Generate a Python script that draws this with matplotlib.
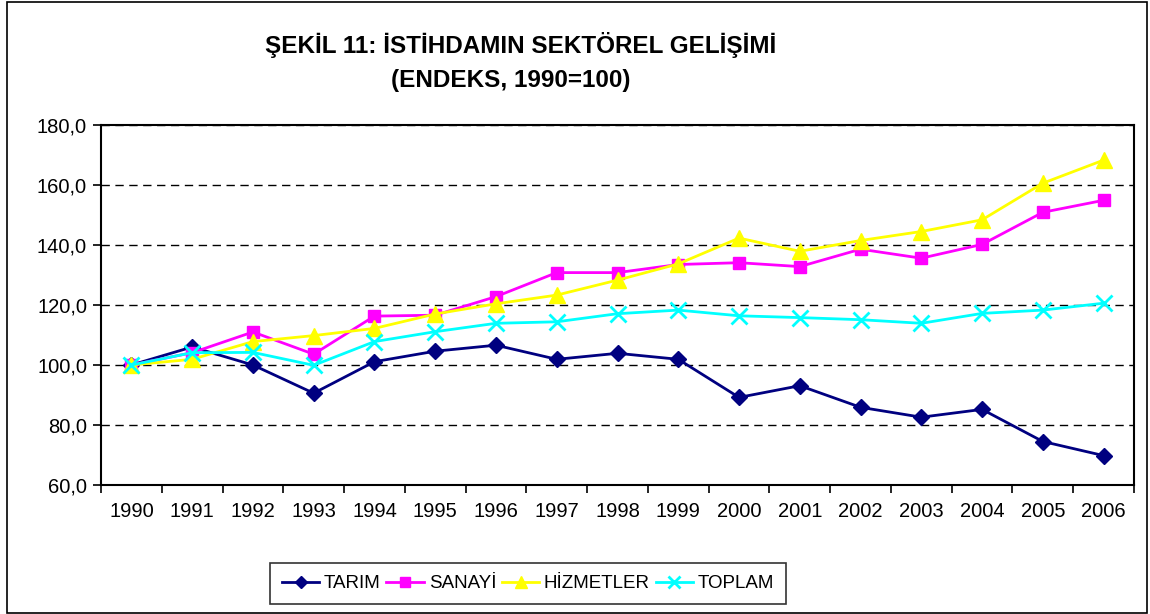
import matplotlib
matplotlib.use("Agg")
import matplotlib.pyplot as plt
from matplotlib.patches import Rectangle
from matplotlib.ticker import FixedLocator, FuncFormatter

years = [str(y) for y in range(1990, 2007)]
tarim = [100.0, 106.0, 100.0, 90.6, 101.1, 104.6, 106.6, 101.9, 103.9, 101.9,
         89.2, 93.1, 85.9, 82.6, 85.2, 74.5, 69.8]
sanayi = [100.0, 104.1, 111.0, 103.6, 116.3, 116.6, 122.8, 130.8, 130.8, 133.5,
          134.1, 132.8, 138.6, 135.6, 140.2, 150.9, 154.9]
hizmetler = [100.0, 101.9, 107.8, 109.8, 112.2, 117.0, 120.4, 123.3, 128.3, 133.7,
             142.3, 137.9, 141.5, 144.5, 148.4, 160.6, 168.3]
toplam = [100.0, 104.1, 104.2, 99.9, 107.8, 111.1, 113.9, 114.4, 117.1, 118.3,
          116.4, 115.8, 115.1, 113.9, 117.2, 118.3, 120.6]

W, H = 1150, 614
fig = plt.figure(figsize=(W / 100, H / 100), dpi=100)
plt.rcParams['font.family'] = ['Liberation Sans', 'DejaVu Sans']

# outer chart border
fig.patches.append(Rectangle((7 / W, 1 / H), 1140 / W, 611 / H, transform=fig.transFigure,
                             fill=False, edgecolor='black', linewidth=1.2))

ax = fig.add_axes([101 / W, (H - 485) / H, (1134 - 101) / W, (485 - 125) / H])

x = list(range(len(years)))
ax.plot(x, tarim, color='#000080', marker='D', markersize=8, linewidth=2, label='TARIM')
ax.plot(x, sanayi, color='#FF00FF', marker='s', markersize=9, linewidth=2, label='SANAYİ')
ax.plot(x, hizmetler, color='#FFFF00', marker='^', markersize=11, linewidth=2, label='HİZMETLER')
ax.plot(x, toplam, color='#00FFFF', marker='x', markersize=11, markeredgewidth=2,
        linewidth=2, label='TOPLAM')

ax.set_xlim(-0.5, len(years) - 0.5)
ax.set_ylim(60, 180)
ax.set_xticks(x)
ax.set_xticklabels(years, fontsize=14.5)
ax.xaxis.set_minor_locator(FixedLocator([i - 0.5 for i in range(len(years) + 1)]))
ax.tick_params(axis='x', which='major', length=0, pad=12)
ax.tick_params(axis='x', which='minor', length=6, width=1.2, direction='out')
ax.set_yticks(range(60, 181, 20))
ax.yaxis.set_major_formatter(FuncFormatter(lambda v, p: f"{v:.1f}".replace('.', ',')))
ax.tick_params(axis='y', length=6, width=1.2, direction='out', labelsize=14.5, pad=4)
ax.grid(axis='y', color='black', linestyle=(0, (6, 4)), linewidth=1)
ax.set_axisbelow(True)
for s in ax.spines.values():
    s.set_linewidth(1.5)
    s.set_color('black')

fig.text(521 / W, 1 - 45 / H, 'ŞEKİL 11: İSTİHDAMIN SEKTÖREL GELİŞİMİ', ha='center', va='center',
         fontsize=17.5, fontweight='bold')
fig.text(511 / W, 1 - 80 / H, '(ENDEKS, 1990=100)', ha='center', va='center',
         fontsize=17.5, fontweight='bold')

leg = fig.legend(loc='center', bbox_to_anchor=(528 / W, 1 - 583.5 / H), ncol=4,
                 fontsize=13.5, markerscale=0.8,
                 frameon=True, fancybox=False, edgecolor='black', handlelength=2.0,
                 columnspacing=0.3, handletextpad=0.25, borderpad=0.65, borderaxespad=0)
leg.get_frame().set_linewidth(1.2)

fig.savefig('out.png', dpi=100)
